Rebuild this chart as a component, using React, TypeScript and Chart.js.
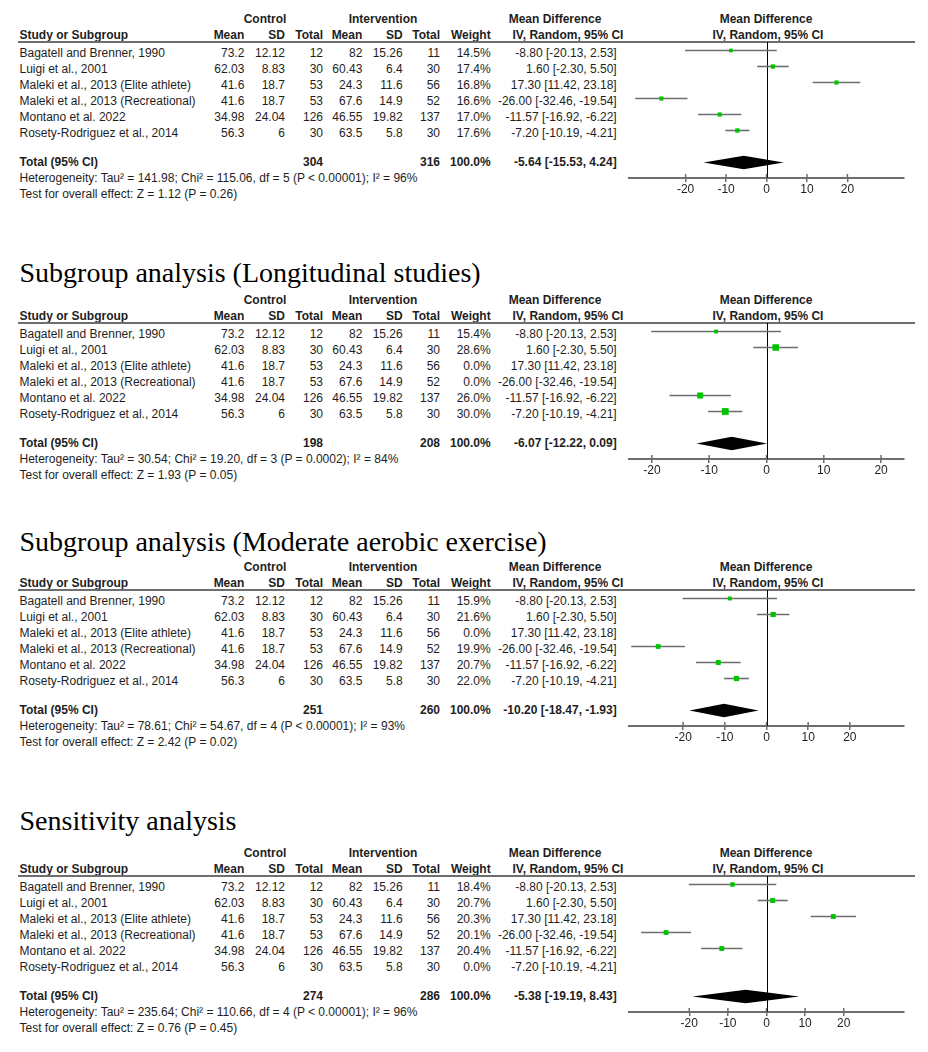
import React, { useEffect, useRef } from "react";
import { Chart, registerables } from "chart.js";

Chart.register(...registerables);

// ---------------- DATA ----------------
const studies = [
  "Bagatell and Brenner, 1990",
  "Luigi et al., 2001",
  "Maleki et al., 2013 (Elite athlete)",
  "Maleki et al., 2013 (Recreational)",
  "Montano et al. 2022",
  "Rosety-Rodriguez et al., 2014",
];
const controlMean = ["73.2", "62.03", "41.6", "41.6", "34.98", "56.3"];
const controlSD = ["12.12", "8.83", "18.7", "18.7", "24.04", "6"];
const controlTotal = [12, 30, 53, 53, 126, 30];
const interventionMean = ["82", "60.43", "24.3", "67.6", "46.55", "63.5"];
const interventionSD = ["15.26", "6.4", "11.6", "14.9", "19.82", "5.8"];
const interventionTotal = [11, 30, 56, 52, 137, 30];
const meanDiff = [-8.8, 1.6, 17.3, -26.0, -11.57, -7.2];
const ciLower = [-20.13, -2.3, 11.42, -32.46, -16.92, -10.19];
const ciUpper = [2.53, 5.5, 23.18, -19.54, -6.22, -4.21];

const panelTitles = [
  "",
  "Subgroup analysis (Longitudinal studies)",
  "Subgroup analysis (Moderate aerobic exercise)",
  "Sensitivity analysis",
];
const weightsOverall = [14.5, 17.4, 16.8, 16.6, 17.0, 17.6];
const weightsLongitudinal = [15.4, 28.6, 0.0, 0.0, 26.0, 30.0];
const weightsModerate = [15.9, 21.6, 0.0, 19.9, 20.7, 22.0];
const weightsSensitivity = [18.4, 20.7, 20.3, 20.1, 20.4, 0.0];
const panelWeights = [weightsOverall, weightsLongitudinal, weightsModerate, weightsSensitivity];

const totalControl = [304, 198, 251, 274];
const totalIntervention = [316, 208, 260, 286];
const pooledMD = [-5.64, -6.07, -10.2, -5.38];
const pooledLower = [-15.53, -12.22, -18.47, -19.19];
const pooledUpper = [4.24, 0.09, -1.93, 8.43];
const heterogeneity = [
  "Heterogeneity: Tau\u00b2 = 141.98; Chi\u00b2 = 115.06, df = 5 (P < 0.00001); I\u00b2 = 96%",
  "Heterogeneity: Tau\u00b2 = 30.54; Chi\u00b2 = 19.20, df = 3 (P = 0.0002); I\u00b2 = 84%",
  "Heterogeneity: Tau\u00b2 = 78.61; Chi\u00b2 = 54.67, df = 4 (P < 0.00001); I\u00b2 = 93%",
  "Heterogeneity: Tau\u00b2 = 235.64; Chi\u00b2 = 110.66, df = 4 (P < 0.00001); I\u00b2 = 96%",
];
const overallEffect = [
  "Test for overall effect: Z = 1.12 (P = 0.26)",
  "Test for overall effect: Z = 1.93 (P = 0.05)",
  "Test for overall effect: Z = 2.42 (P = 0.02)",
  "Test for overall effect: Z = 0.76 (P = 0.45)",
];
const axisLimits = [34, 24, 33, 35.6];
const tickValues = [-20, -10, 0, 10, 20];

// ---------------- LAYOUT ----------------
const headerLineY = [42, 323, 590, 876];
const titleBaseline = [0, 282, 551.7, 830];
const FONT = '"Liberation Sans", Arial, Helvetica, sans-serif';
const SERIF = '"Liberation Serif", "Times New Roman", serif';
const TEXT_COLOR = "#1e1e1e";
const GREY = "#6e6e6e";

const col = {
  study: 19.5,
  cMean: 244.3,
  cSD: 285,
  cTotal: 323,
  iMean: 362.3,
  iSD: 402.7,
  iTotal: 440,
  weight: 490.7,
  ci: 616.7,
};

function Txt({ x, base, children, align = "left", bold = false }: any) {
  const w = 420;
  let left = x;
  if (align === "right") left = x - w;
  if (align === "center") left = x - w / 2;
  return (
    <div
      style={{
        position: "absolute",
        left,
        top: base - 12.16,
        width: w,
        height: 16,
        lineHeight: "16px",
        fontSize: 12,
        fontFamily: FONT,
        fontWeight: bold ? 700 : 400,
        textAlign: align,
        whiteSpace: "nowrap",
        color: TEXT_COLOR,
      }}
    >
      {children}
    </div>
  );
}

const fmt2 = (v: number) => v.toFixed(2);
const ciText = (m: number, l: number, u: number) => `${fmt2(m)} [${fmt2(l)}, ${fmt2(u)}]`;

function Panel({ p }: { p: number }) {
  const ref = useRef<HTMLCanvasElement | null>(null);
  const H = headerLineY[p];
  const weights = panelWeights[p];

  useEffect(() => {
    const canvas = ref.current;
    if (!canvas) return;
    const lim = axisLimits[p];
    const idx = studies.map((_, i) => i).filter((i) => weights[i] > 0);
    const pooledRow = studies.length + 1;

    const ciDatasets = idx.map((i) => ({
      type: "scatter",
      showLine: true,
      data: [
        { x: ciLower[i], y: i },
        { x: ciUpper[i], y: i },
      ],
      borderColor: GREY,
      borderWidth: 1.6,
      pointRadius: 0,
      order: 2,
    }));
    const pointDataset = {
      type: "scatter",
      data: idx.map((i) => ({ x: meanDiff[i], y: i })),
      pointStyle: "rect",
      pointRadius: idx.map((i) => (0.8 + 0.2 * weights[i]) / Math.SQRT2),
      backgroundColor: "#00c400",
      borderWidth: 0,
      order: 0,
    };

    const forestPlugin = {
      id: "forest" + p,
      beforeDatasetsDraw(chart: any) {
        const { ctx, chartArea, scales } = chart;
        const x0 = Math.round(scales.x.getPixelForValue(0)) + 0.5;
        ctx.save();
        ctx.strokeStyle = "#000";
        ctx.lineWidth = 1;
        ctx.beginPath();
        ctx.moveTo(x0, chartArea.top);
        ctx.lineTo(x0, chartArea.bottom);
        ctx.stroke();
        ctx.restore();
      },
      afterDatasetsDraw(chart: any) {
        const { ctx, chartArea, scales } = chart;
        const xs = scales.x;
        const ys = scales.y;
        const yc = ys.getPixelForValue(pooledRow);
        const half = 6.7;
        ctx.save();
        ctx.fillStyle = "#000";
        ctx.beginPath();
        ctx.moveTo(xs.getPixelForValue(pooledLower[p]), yc);
        ctx.lineTo(xs.getPixelForValue(pooledMD[p]), yc - half);
        ctx.lineTo(xs.getPixelForValue(pooledUpper[p]), yc);
        ctx.lineTo(xs.getPixelForValue(pooledMD[p]), yc + half);
        ctx.closePath();
        ctx.fill();
        // upper halves of the tick marks
        ctx.strokeStyle = GREY;
        ctx.lineWidth = 1.5;
        xs.ticks.forEach((t: any) => {
          const x = xs.getPixelForValue(t.value);
          ctx.beginPath();
          ctx.moveTo(x, chartArea.bottom - 4);
          ctx.lineTo(x, chartArea.bottom);
          ctx.stroke();
        });
        ctx.restore();
      },
    };

    const chart = new Chart(canvas, {
      type: "scatter",
      data: { datasets: [pointDataset, ...ciDatasets] as any },
      options: {
        animation: false,
        responsive: false,
        devicePixelRatio: 1,
        events: [],
        layout: { autoPadding: false, padding: { left: 629, right: 24, top: 30, bottom: 0 } },
        plugins: { legend: { display: false }, tooltip: { enabled: false } },
        scales: {
          x: {
            type: "linear",
            position: "bottom",
            min: -lim,
            max: lim,
            afterBuildTicks: (s: any) => {
              s.ticks = tickValues.map((v) => ({ value: v }));
            },
            afterFit: (s: any) => {
              s.height = 30;
            },
            grid: {
              display: true,
              drawOnChartArea: false,
              drawTicks: true,
              tickLength: 4,
              color: GREY,
              lineWidth: 1.5,
            },
            border: { display: true, color: GREY, width: 2 },
            ticks: {
              font: { family: FONT, size: 12 },
              color: TEXT_COLOR,
              padding: 0,
              maxRotation: 0,
              autoSkip: false,
            },
          },
          y: {
            type: "linear",
            display: false,
            reverse: true,
            min: -8.5 / 16,
            max: (136 - 8.5) / 16,
          },
        },
      } as any,
      plugins: [forestPlugin],
    });
    return () => chart.destroy();
  }, [p]);

  const rowBase = (i: number) => H + 15 + 16 * i;
  const hdr1 = H - 18.4;
  const hdr2 = H - 2.4;

  return (
    <>
      {panelTitles[p] ? (
        <div
          style={{
            position: "absolute",
            left: 19.5,
            top: titleBaseline[p] - 23.45,
            height: 28,
            lineHeight: "28px",
            fontSize: 28,
            fontFamily: SERIF,
            whiteSpace: "nowrap",
            color: "#000",
          }}
        >
          {panelTitles[p]}
        </div>
      ) : null}
      <Txt x={265} base={hdr1} align="center" bold>Control</Txt>
      <Txt x={383} base={hdr1} align="center" bold>Intervention</Txt>
      <Txt x={555} base={hdr1} align="center" bold>Mean Difference</Txt>
      <Txt x={766} base={hdr1} align="center" bold>Mean Difference</Txt>
      <Txt x={col.study} base={hdr2} bold>Study or Subgroup</Txt>
      <Txt x={col.cMean} base={hdr2} align="right" bold>Mean</Txt>
      <Txt x={col.cSD} base={hdr2} align="right" bold>SD</Txt>
      <Txt x={col.cTotal} base={hdr2} align="right" bold>Total</Txt>
      <Txt x={col.iMean} base={hdr2} align="right" bold>Mean</Txt>
      <Txt x={col.iSD} base={hdr2} align="right" bold>SD</Txt>
      <Txt x={col.iTotal} base={hdr2} align="right" bold>Total</Txt>
      <Txt x={col.weight} base={hdr2} align="right" bold>Weight</Txt>
      <Txt x={568} base={hdr2} align="center" bold>IV, Random, 95% CI</Txt>
      <Txt x={768} base={hdr2} align="center" bold>IV, Random, 95% CI</Txt>
      <div
        style={{
          position: "absolute",
          left: 18,
          top: H - 0.75,
          width: 897,
          height: 1.5,
          background: GREY,
        }}
      />
      {studies.map((s, i) => (
        <React.Fragment key={i}>
          <Txt x={col.study} base={rowBase(i)}>{s}</Txt>
          <Txt x={col.cMean} base={rowBase(i)} align="right">{controlMean[i]}</Txt>
          <Txt x={col.cSD} base={rowBase(i)} align="right">{controlSD[i]}</Txt>
          <Txt x={col.cTotal} base={rowBase(i)} align="right">{controlTotal[i]}</Txt>
          <Txt x={col.iMean} base={rowBase(i)} align="right">{interventionMean[i]}</Txt>
          <Txt x={col.iSD} base={rowBase(i)} align="right">{interventionSD[i]}</Txt>
          <Txt x={col.iTotal} base={rowBase(i)} align="right">{interventionTotal[i]}</Txt>
          <Txt x={col.weight} base={rowBase(i)} align="right">{weights[i].toFixed(1)}%</Txt>
          <Txt x={col.ci} base={rowBase(i)} align="right">{ciText(meanDiff[i], ciLower[i], ciUpper[i])}</Txt>
        </React.Fragment>
      ))}
      <Txt x={col.study} base={H + 124.3} bold>Total (95% CI)</Txt>
      <Txt x={col.cTotal} base={H + 124.3} align="right" bold>{totalControl[p]}</Txt>
      <Txt x={col.iTotal} base={H + 124.3} align="right" bold>{totalIntervention[p]}</Txt>
      <Txt x={col.weight} base={H + 124.3} align="right" bold>100.0%</Txt>
      <Txt x={col.ci} base={H + 124.3} align="right" bold>{ciText(pooledMD[p], pooledLower[p], pooledUpper[p])}</Txt>
      <Txt x={col.study} base={H + 140.3}>{heterogeneity[p]}</Txt>
      <Txt x={col.study} base={H + 156.3}>{overallEffect[p]}</Txt>
      <canvas
        ref={ref}
        width={928}
        height={196}
        style={{ position: "absolute", left: 0, top: H - 30, width: 928, height: 196, display: "block" }}
      />
    </>
  );
}

export default function App() {
  return (
    <div style={{ position: "absolute", left: 0, top: 0, width: 928, height: 1052, background: "#fff" }}>
      {[0, 1, 2, 3].map((p) => (
        <Panel key={p} p={p} />
      ))}
    </div>
  );
}
